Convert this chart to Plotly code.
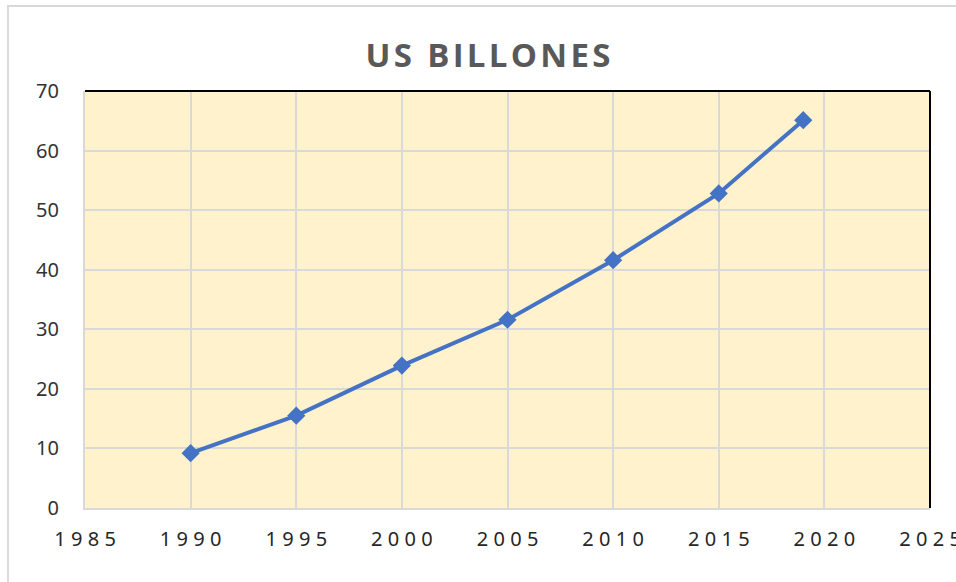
import plotly.graph_objects as go

years = [1990, 1995, 2000, 2005, 2010, 2015, 2019]
values = [9.2, 15.5, 23.9, 31.6, 41.6, 52.8, 65.1]
x_ticks = [1985, 1990, 1995, 2000, 2005, 2010, 2015, 2020, 2025]
y_ticks = [0, 10, 20, 30, 40, 50, 60, 70]
title_text = "US BILLONES"

W, H = 956, 582
ml, mr, mt, mb = 85, 26, 91, 74
pw, ph = W - ml - mr, H - mt - mb

fig = go.Figure()
fig.add_trace(go.Scatter(
    x=years, y=values, mode="lines+markers",
    line=dict(color="#4472C4", width=4),
    marker=dict(symbol="diamond", size=14, color="#4472C4"),
    showlegend=False,
))

spaced = ["\u2009\u200A".join(str(t)) for t in x_ticks]
title_spaced = "\u200A".join(title_text)

fig.update_layout(
    width=W, height=H,
    margin=dict(l=ml, r=mr, t=mt, b=mb, autoexpand=False),
    paper_bgcolor="white",
    plot_bgcolor="#FFF2CC",
    title=dict(text="<b>" + title_spaced + "</b>", x=488 / W, xanchor="center",
               y=1 - 55 / H, yanchor="middle",
               font=dict(family="Open Sans", size=33, color="#595959")),
    xaxis=dict(range=[1985, 2025], tickvals=x_ticks, ticktext=spaced,
               showgrid=True, gridcolor="#D9D9D9", gridwidth=2,
               showline=True, linecolor="#D9D9D9", linewidth=2,
               zeroline=False, ticks="", ticklabelstandoff=12,
               ticklabeloverflow="allow", automargin=False,
               tickfont=dict(family="Noto Sans", size=20, color="#262626")),
    yaxis=dict(range=[0, 70], tickvals=y_ticks,
               showgrid=True, gridcolor="#D9D9D9", gridwidth=2,
               showline=True, linecolor="#D9D9D9", linewidth=2,
               zeroline=False, ticks="", ticklabelstandoff=20, automargin=False,
               tickfont=dict(family="Noto Sans", size=20, color="#333333")),
)

# black top and right border of plot area
fig.add_shape(type="line", xref="x domain", yref="y domain", x0=0, x1=1, y0=1, y1=1,
              line=dict(color="black", width=2))
fig.add_shape(type="line", xref="x domain", yref="y domain", x0=1, x1=1, y0=0, y1=1,
              line=dict(color="black", width=2))
# outer chart frame (light gray)
fig.add_shape(type="rect", xref="paper", yref="paper",
              x0=(8 - ml) / pw, x1=(W + 10 - ml) / pw,
              y0=-(mb + 10) / ph, y1=1 + (mt - 6) / ph,
              line=dict(color="#D9D9D9", width=2), layer="below")

fig.write_html("out.html")
